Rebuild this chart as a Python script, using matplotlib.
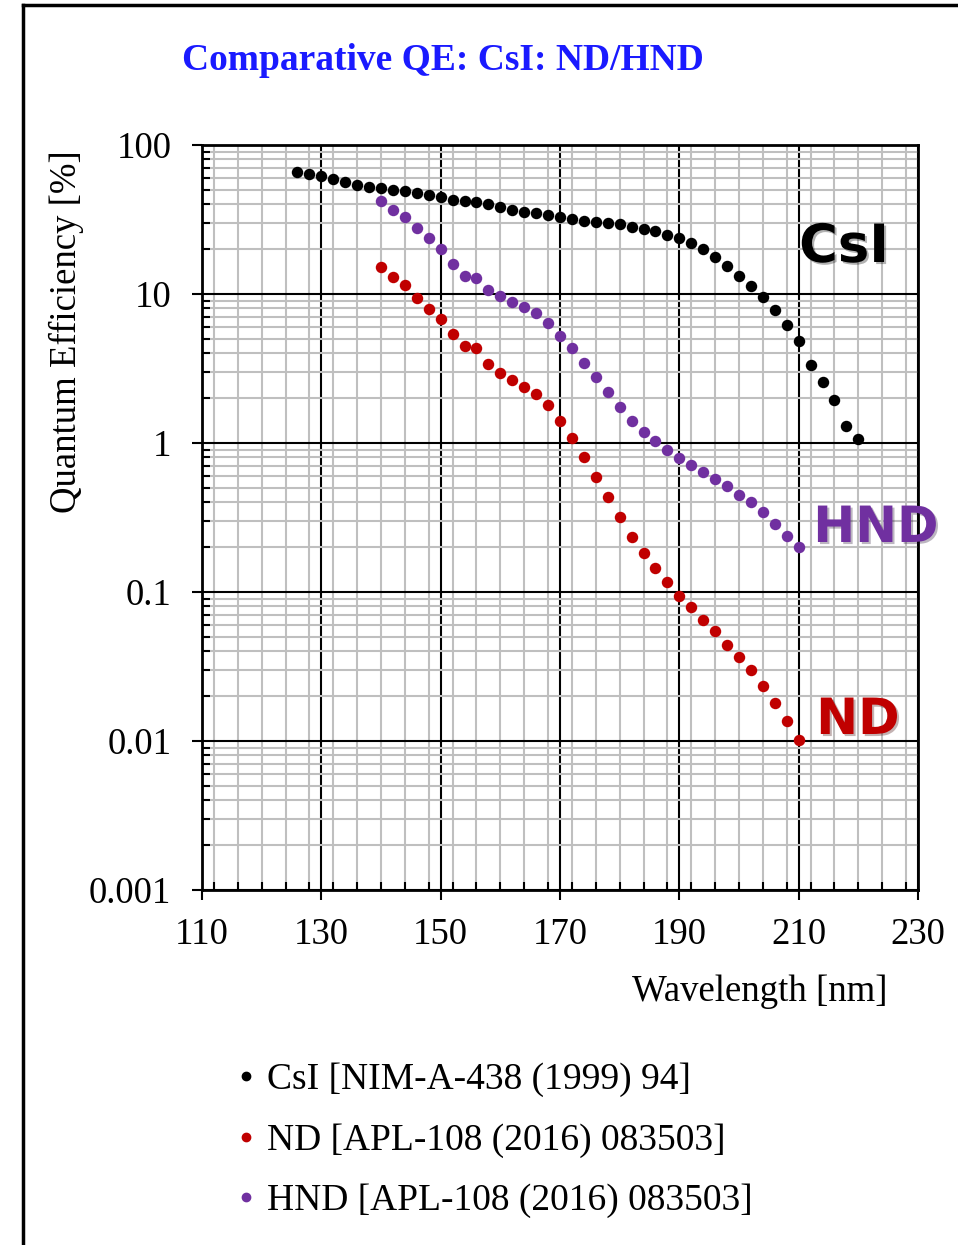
import numpy as np
import matplotlib
matplotlib.use('Agg')
import matplotlib.pyplot as plt
import matplotlib.ticker as ticker
import matplotlib.patheffects as pe
from matplotlib.lines import Line2D

#wavelengths [nm]
wl_csi = np.arange(126, 221, 2)
wl_nd = np.arange(140, 211, 2)
wl_hnd = np.arange(140, 211, 2)

#quantum efficiency [%]
qe_csi = [65.6, 63.5, 61.6, 59.1, 56.2, 54.2, 52.5, 51.4, 50.1, 48.9,
          47.6, 46.1, 44.6, 43.0, 42.1, 41.4, 40.4, 38.6, 36.6, 35.7,
          35.0, 33.9, 32.7, 31.7, 30.7, 30.4, 30.0, 29.5, 28.3, 27.3,
          26.4, 25.0, 23.8, 21.9, 19.9, 17.7, 15.5, 13.3, 11.3, 9.5,
          7.8, 6.2, 4.8, 3.36, 2.55, 1.94, 1.31, 1.07]
qe_nd = [15.1, 13.1, 11.5, 9.45, 7.93, 6.76, 5.37, 4.48, 4.32, 3.37,
         2.94, 2.64, 2.39, 2.14, 1.80, 1.40, 1.08, 0.81, 0.59, 0.434,
         0.317, 0.235, 0.182, 0.144, 0.117, 0.0944, 0.0789, 0.0652, 0.0547, 0.0438,
         0.0366, 0.0298, 0.0234, 0.0180, 0.0136, 0.0102]
qe_hnd = [42.3, 36.5, 33.0, 27.6, 23.6, 20.0, 15.9, 13.2, 12.8, 10.6,
          9.7, 8.8, 8.2, 7.4, 6.35, 5.2, 4.36, 3.43, 2.76, 2.19,
          1.75, 1.41, 1.19, 1.03, 0.90, 0.795, 0.71, 0.64, 0.573, 0.511,
          0.450, 0.402, 0.346, 0.286, 0.238, 0.200]

legend_labels = ['CsI [NIM-A-438 (1999) 94]',
                 'ND [APL-108 (2016) 083503]',
                 'HND [APL-108 (2016) 083503]']
y_ticks = [0.001, 0.01, 0.1, 1, 10, 100]
y_ticklabels = ['0.001', '0.01', '0.1', '1', '10', '100']
x_ticks = np.arange(110, 231, 20)

c_csi = 'black'
c_nd = '#c00000'
c_hnd = '#7030a0'

plt.rcParams['font.family'] = ['Liberation Serif', 'DejaVu Serif']

fig = plt.figure(figsize=(9.58, 12.45), dpi=100)
ax = fig.add_axes([202/958, 1-890/1245, 716/958, 745/1245])

#scatter series
ax.scatter(wl_csi, qe_csi, s=68, color=c_csi, zorder=5, linewidths=0)
ax.scatter(wl_nd, qe_nd, s=68, color=c_nd, zorder=5, linewidths=0)
ax.scatter(wl_hnd, qe_hnd, s=68, color=c_hnd, zorder=5, linewidths=0)

ax.set_yscale('log')
ax.set_xlim(110, 230)
ax.set_ylim(0.001, 100)

ax.set_xticks(x_ticks)
ax.xaxis.set_minor_locator(ticker.MultipleLocator(4))
ax.set_yticks(y_ticks)
ax.set_yticklabels(y_ticklabels)
ax.yaxis.set_minor_locator(ticker.LogLocator(base=10, subs=np.arange(2, 10)))
ax.yaxis.set_minor_formatter(ticker.NullFormatter())

ax.tick_params(which='major', direction='out', length=7, width=1.5,
               labelsize=26.5)
ax.tick_params(axis='x', which='major', pad=13)
ax.tick_params(axis='y', which='major', pad=15)
ax.tick_params(which='minor', direction='in', length=6, width=1.5)

#grid
ax.grid(which='minor', color='#bfbfbf', linewidth=1.5, zorder=0)
ax.grid(which='major', color='black', linewidth=1.5, zorder=1)
ax.set_axisbelow(True)
for sp in ax.spines.values():
    sp.set_linewidth(2)

#axis labels
fig.text(888/958, 1-992/1245, 'Wavelength [nm]', fontsize=26.5,
         ha='right', va='center')
fig.text(66/958, 1-332/1245, 'Quantum Efficiency [%]', fontsize=26.5,
         rotation=90, ha='center', va='center')

#title
fig.text(443/958, 1-60/1245, 'Comparative QE: CsI: ND/HND', fontsize=27,
         fontweight='bold', color='#1a1aff', ha='center', va='center')

#series tags
shadow = [pe.withSimplePatchShadow(offset=(1.5, -1.5), alpha=0.3)]
ax.text(844/958, 1-247/1245, 'CsI', transform=fig.transFigure, fontsize=38,
        fontweight='bold', family='DejaVu Sans', color=c_csi,
        ha='center', va='center', path_effects=shadow, zorder=6)
ax.text(876/958, 1-528/1245, 'HND', transform=fig.transFigure, fontsize=36,
        fontweight='bold', family='DejaVu Sans', color=c_hnd,
        ha='center', va='center', path_effects=shadow, zorder=6, clip_on=False)
ax.text(858/958, 1-720/1245, 'ND', transform=fig.transFigure, fontsize=36,
        fontweight='bold', family='DejaVu Sans', color=c_nd,
        ha='center', va='center', path_effects=shadow, zorder=6)

#legend
handles = [Line2D([], [], ls='none', marker='o', ms=6, color=c) for c in (c_csi, c_nd, c_hnd)]
fig.legend(handles, legend_labels, loc='upper left', bbox_to_anchor=(201/958, 1-1029/1245),
           frameon=False, fontsize=27, handlelength=0.6, handletextpad=0.25,
           labelspacing=0.69)

#frame around the figure
fig.add_artist(Line2D([23/958, 23/958], [0, 1-5/1245], color='black', lw=2.5))
fig.add_artist(Line2D([23/958, 1], [1-5/1245, 1-5/1245], color='black', lw=2.5))

fig.savefig('out.png', dpi=100)
